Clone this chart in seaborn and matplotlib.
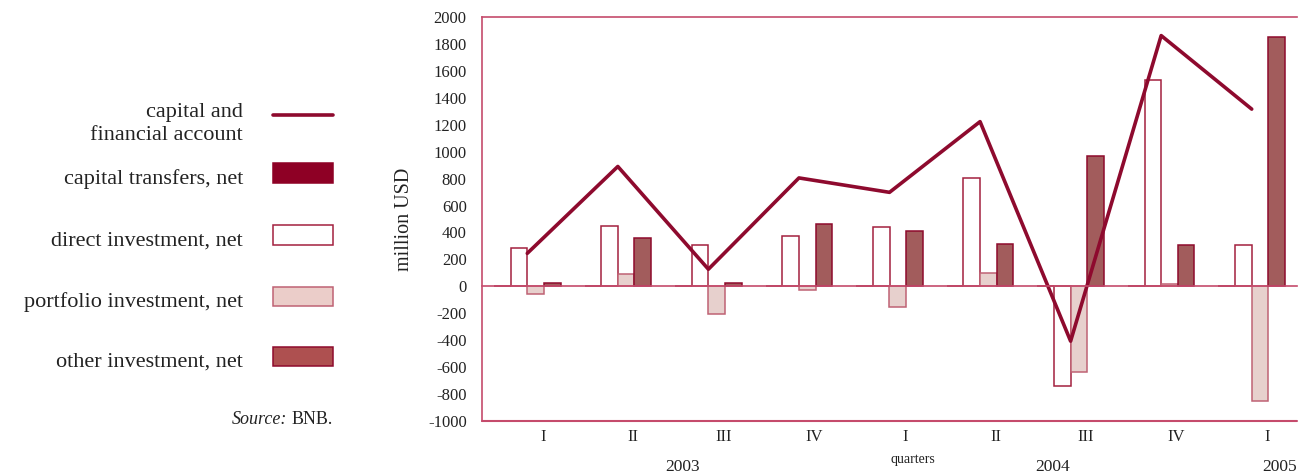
import numpy as np
import pandas as pd
import matplotlib
matplotlib.use("Agg")
import matplotlib.pyplot as plt
import matplotlib.transforms as mtransforms
from matplotlib.patches import Rectangle
from matplotlib.lines import Line2D
import seaborn as sns

# data (million USD)
years = ["2003", "2003", "2003", "2003", "2004", "2004", "2004", "2004", "2005"]
quarters = ["I", "II", "III", "IV", "I", "II", "III", "IV", "I"]
capital_financial = [245, 890, 127, 805, 698, 1223, -407, 1862, 1316]
capital_transfers = [0, 0, 0, 0, 0, 0, 0, 0, 0]
direct_investment = [282, 445, 306, 377, 441, 804, -740, 1529, 310]
portfolio_investment = [-60, 90, -206, -25, -154, 102, -638, 20, -851]
other_investment = [22, 362, 28, 460, 409, 315, 966, 310, 1852]

year_labels = ["2003", "2004", "2005"]
year_label_x = [1.72, 5.80, 8.31]

series_names = ["capital transfers, net", "direct investment, net",
                "portfolio investment, net", "other investment, net"]
fills = {"capital transfers, net": "#8E0025",
         "direct investment, net": "#FFFFFF",
         "portfolio investment, net": "#EBCDC9",
         "other investment, net": "#AE5050"}
edges = {"capital transfers, net": "#8E0025",
         "direct investment, net": "#A3203F",
         "portfolio investment, net": "#BF6274",
         "other investment, net": "#8E0A2C"}
LINE_COLOR = "#8E0A2E"
AXIS_COLOR = "#C54B6C"
TEXT_COLOR = "#222222"

periods = [f"{y} {q}" for y, q in zip(years, quarters)]
df = pd.DataFrame({
    "period": periods * 4,
    "series": np.repeat(series_names, len(periods)),
    "value": capital_transfers + direct_investment + portfolio_investment + other_investment,
})

sns.set_style("white")
plt.rcParams["font.family"] = ["Liberation Serif", "DejaVu Serif"]
plt.rcParams["axes.unicode_minus"] = False

fig = plt.figure(figsize=(13.01, 4.75), dpi=100)
ax = fig.add_axes([482 / 1301, 1 - 421 / 475, (1297 - 482) / 1301, (421 - 17) / 475])

sns.barplot(data=df, x="period", y="value", hue="series", order=periods,
            hue_order=series_names, palette=fills, width=0.736, gap=0,
            linewidth=1.0, legend=False, ax=ax)
for cont, name in zip(ax.containers, series_names):
    for bar in cont:
        bar.set_edgecolor(edges[name])
        bar.set_linewidth(1.1)

sns.lineplot(x=np.arange(len(periods)), y=capital_financial, color=LINE_COLOR,
             linewidth=2.6, ax=ax, legend=False)

ax.set_xlim(-0.5, len(periods) - 0.5)
ax.set_ylim(-1000, 2000)
ax.set_yticks(np.arange(-1000, 2001, 200))
ax.tick_params(axis="y", direction="out", length=5, width=1, color=AXIS_COLOR,
               labelsize=12, labelcolor=TEXT_COLOR, pad=6)

# x axis sits on the zero line, ticks between quarters
ax.spines["bottom"].set_position(("data", 0))
ax.set_xticks(np.arange(0.5, len(periods) - 0.5, 1.0))
ax.set_xticklabels([])
ax.tick_params(axis="x", direction="out", length=4, width=1, color=AXIS_COLOR)
ax.axhline(-1000, color=AXIS_COLOR, lw=1.5, clip_on=False)
for side in ["left", "top", "bottom"]:
    ax.spines[side].set_color(AXIS_COLOR)
    ax.spines[side].set_linewidth(1.2)
ax.spines["right"].set_visible(False)
ax.set_xlabel("")
ax.set_ylabel("million USD", fontsize=14.5, color=TEXT_COLOR, labelpad=10)

trans = mtransforms.blended_transform_factory(ax.transData, fig.transFigure)
for i, q in enumerate(quarters):
    ax.text(i + 0.17, 1 - 437 / 475, q, transform=trans, ha="center", va="center",
            fontsize=12, color=TEXT_COLOR)
for x, y in zip(year_label_x, year_labels):
    ax.text(x, 1 - 467 / 475, y, transform=trans, ha="center", va="center",
            fontsize=12.5, color=TEXT_COLOR)
ax.text(4.26, 1 - 459 / 475, "quarters", transform=trans, ha="center", va="center",
        fontsize=10, color=TEXT_COLOR)

# legend on the left, drawn in figure pixels
W, H = 1301, 475


def fx(px):
    return px / W


def fy(py):
    return 1 - py / H


# the two-line entry for the line series
fig.text(fx(243), fy(113), "capital and", ha="right", va="center", fontsize=16,
         color=TEXT_COLOR)
fig.text(fx(243), fy(135), "financial account", ha="right", va="center", fontsize=16,
         color=TEXT_COLOR)
fig.add_artist(Line2D([fx(273), fx(333)], [fy(115), fy(115)], color=LINE_COLOR, lw=2.6))

legend_rows = [
    ("capital transfers, net", 173),
    ("direct investment, net", 235),
    ("portfolio investment, net", 296),
    ("other investment, net", 356),
]
for label, yc in legend_rows:
    fig.text(fx(243), fy(yc + 6), label, ha="right", va="center", fontsize=16,
             color=TEXT_COLOR)
    fig.add_artist(Rectangle((fx(273), fy(yc + 9.5)), fx(60), 19 / H,
                             facecolor=fills[label], edgecolor=edges[label], lw=1.1))

fig.text(fx(333), fy(419), "BNB.", ha="right", va="center", fontsize=13, color=TEXT_COLOR)
fig.text(fx(287), fy(419), "Source:", ha="right", va="center", fontsize=13,
         style="italic", color=TEXT_COLOR)

fig.savefig("out.png", dpi=100)
